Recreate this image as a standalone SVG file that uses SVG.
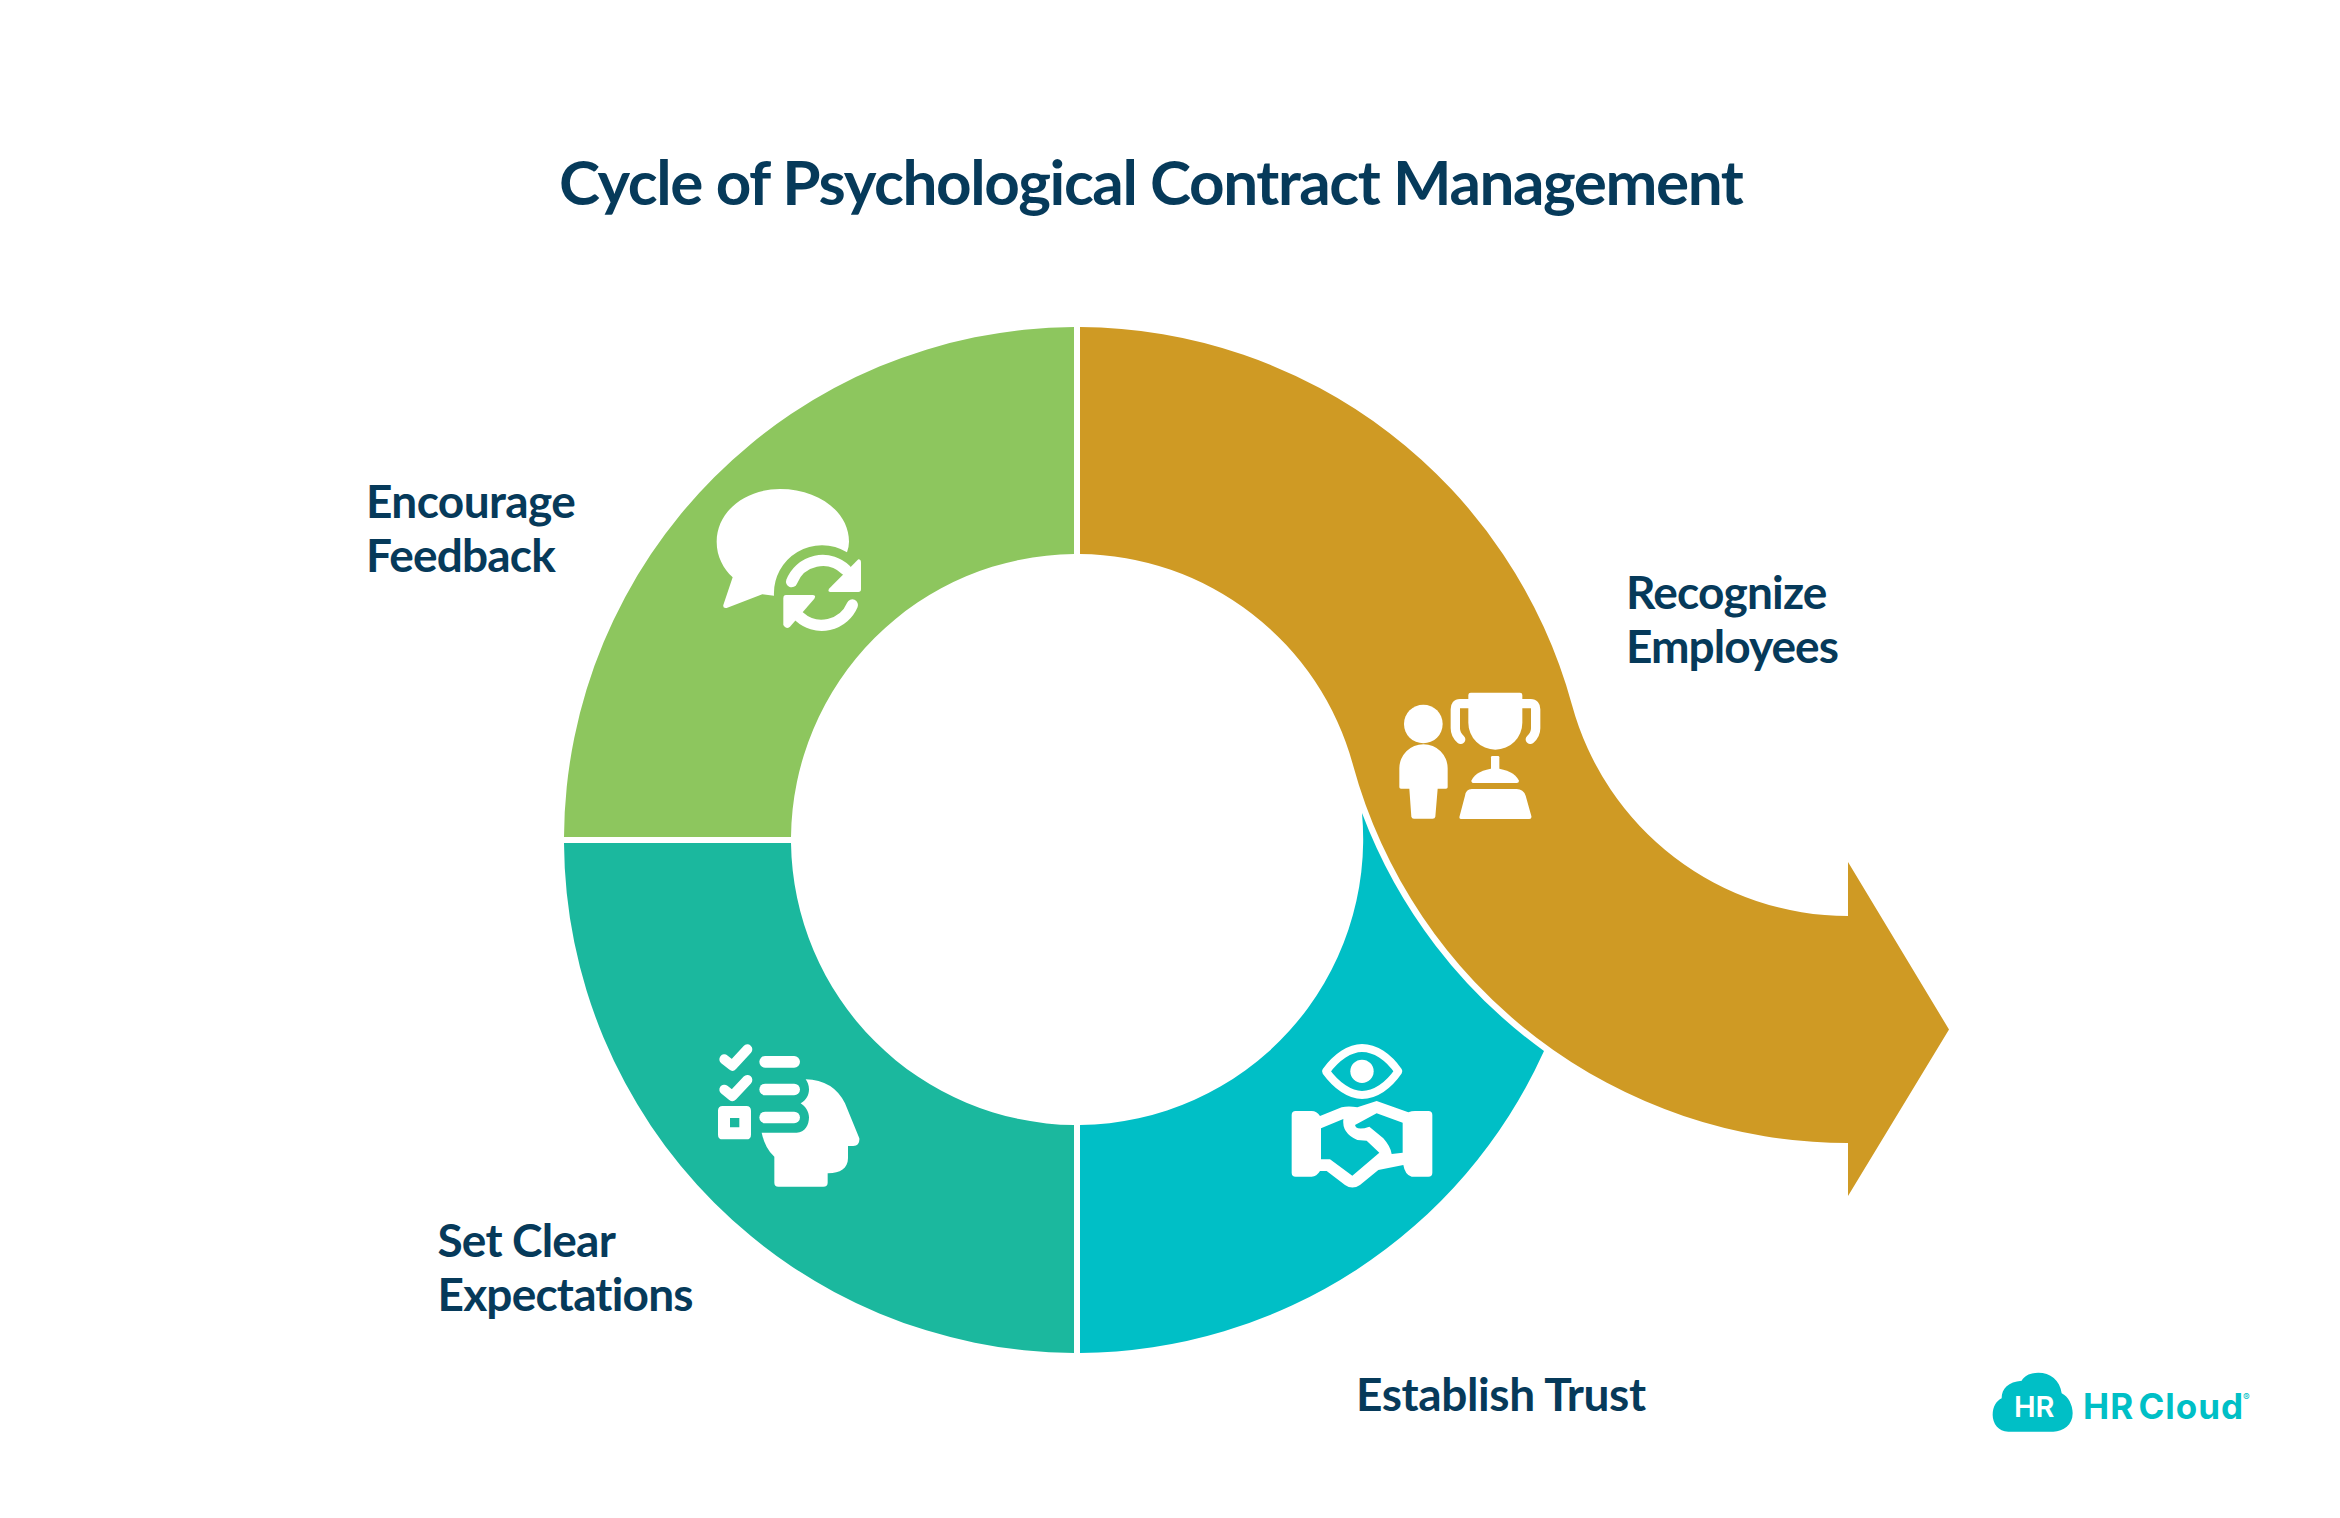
<svg xmlns="http://www.w3.org/2000/svg" width="2340" height="1518" viewBox="0 0 2340 1518">
<style>
text{font-family:Lato,"Liberation Sans",sans-serif;font-weight:700;fill:#063a5a}
.title{font-size:62px;letter-spacing:-1.42px}
.lab{font-size:46px;letter-spacing:-.8px}
.ic{fill:#fff}
.st{fill:none;stroke:#fff;stroke-linecap:round;stroke-linejoin:round}
.logo{font-family:Inter,"Liberation Sans",sans-serif;font-weight:700;fill:#00bfc6}
</style>
<rect width="2340" height="1518" fill="#fff"/>
<text class="title" x="559" y="205">Cycle of Psychological Contract Management</text>

<g id="node-encourage-feedback">
<path d="M1074 327A513 513 0 0 0 564 837H791A286 286 0 0 1 1074 554Z" fill="#8dc65e"/>
<g transform="translate(680 460) scale(.33333)">
<path class="ic" d="M158 352L130 435Q128 446 140 444L247 403L282 407A144 144 0 0 1 501 277Q507 260 507 245C507 155 415 87 300 87C195 87 110 155 110 245C110 290 130 325 158 352Z"/>
<path class="st" stroke-width="34" d="M335 365A100 100 0 0 1 498 330"/>
<path class="ic" d="M535 298Q543 298 543 308V388Q543 396 535 396H452Q442 396 447 386Z"/>
<path class="st" stroke-width="34" d="M517 435A100 100 0 0 1 358 470"/>
<path class="ic" d="M318 405H397Q410 405 403 416L330 500Q318 510 310 495V415Q310 405 318 405Z"/>
</g>
<text class="lab" x="366" y="518" style="letter-spacing:-.6px">Encourage</text><text class="lab" x="366" y="572">Feedback</text>
</g>

<g id="node-set-clear-expectations">
<path d="M564 843A513 513 0 0 0 1074 1353V1125A286 286 0 0 1 791 843Z" fill="#1bb89e"/>
<g transform="translate(690 1030) scale(.33333)">
<path class="st" stroke-width="30" d="M103 88L127 107L172 58M103 179L127 198L172 150"/>
<rect class="ic" x="208" y="78" width="122" height="35" rx="17.5"/>
<rect class="ic" x="208" y="161" width="122" height="35" rx="17.5"/>
<rect class="ic" x="208" y="245" width="122" height="35" rx="17.5"/>
<path class="ic" fill-rule="evenodd" d="M98 228H169Q183 228 183 242V314Q183 328 169 328H98Q84 328 84 314V242Q84 228 98 228ZM120 264V292H148V264Z"/>
<path class="ic" d="M347 148Q430 150 465 220L508 325Q510 347 490 348H474V385C474 415 450 430 415 430H413V458Q413 470 400 470H265Q253 470 253 458V380Q225 355 215 308H320C345 308 357 285 357 262C357 245 345 228 332 220C350 210 357 195 357 178C357 165 352 155 347 148Z"/>
</g>
<text class="lab" x="437.500" y="1257">Set Clear</text><text class="lab" x="437.500" y="1311">Expectations</text>
</g>

<g id="node-establish-trust">
<path d="M1080 1353A513 513 0 0 0 1544 1051A519 519 0 0 1 1362 813A286 286 0 0 1 1080 1125Z" fill="#00bfc6"/>
<g transform="translate(1270 1030) scale(.33333)">
<path class="st" stroke-width="24" d="M168 124C200 80 240 54 276 54C315 54 355 80 385 124C355 168 315 195 276 195C240 195 200 168 168 124Z"/>
<circle class="ic" cx="276" cy="124" r="35"/>
<path class="ic" fill-rule="evenodd" d="M77 243H125Q140 243 150 258L215 232Q235 227 262 232L320 213L415 247Q425 243 435 243H475Q487 243 487 255V428Q487 440 475 440H425Q405 435 400 405L325 420L270 465Q247 480 225 465L170 423H150Q140 440 125 440H77Q65 440 65 428V255Q65 243 77 243ZM153 295L220 267Q215 310 262 330L290 332L328 368L247 437L180 388H153ZM255 285L320 250L398 278V368L365 372Q362 350 340 325L298 290Q270 300 258 292Z"/>
</g>
<text class="lab" x="1356" y="1411" style="letter-spacing:-.38px">Establish Trust</text>
</g>

<g id="node-recognize-employees">
<path d="M1080 327A513 513 0 0 1 1572 705A286 286 0 0 0 1848 916V862L1949 1029.5L1848 1196V1143A513 513 0 0 1 1353 765A286 286 0 0 0 1080 554Z" fill="#cf9a24"/>
<g transform="translate(1300 650) scale(.33333)">
<circle class="ic" cx="370" cy="222" r="58"/>
<path class="ic" d="M298 412V355A72 72 0 0 1 443 355V412Q443 416 438 416H413L406 500Q405 506 398 506H342Q335 506 334 500L328 416H303Q298 416 298 412Z"/>
<path class="ic" d="M505 135Q505 128 512 128H660Q667 128 667 135V218A81 81 0 0 1 505 218Z"/>
<path class="st" stroke-width="28" d="M505 161H480Q466 161 466 178V235Q466 255 482 268M667 161H692Q707 161 707 178V235Q707 255 691 268"/>
<rect class="ic" x="573" y="318" width="25" height="45" rx="4"/>
<path class="ic" d="M514 392Q530 360 585 355Q640 360 657 392Q657 399 650 399H522Q514 399 514 392Z"/>
<path class="ic" d="M515 417H650Q670 417 677 437L694 498Q696 507 688 507H484Q476 507 479 498L495 437Q498 417 515 417Z"/>
</g>
<text class="lab" x="1626" y="609">Recognize</text><text class="lab" x="1626" y="663" style="letter-spacing:-.95px">Employees</text>
</g>

<g id="logo">
<path transform="translate(1980 1360) scale(.33333)" d="M85 215C55 215 38 190 38 165C38 140 50 122 65 115C65 85 85 65 125 62C135 45 155 38 175 38C210 38 240 60 245 100C265 110 278 135 278 160C278 195 250 215 220 215Z" fill="#00bfc6"/>
<text x="2014" y="1417" font-size="29" style="font-family:Inter,'Liberation Sans',sans-serif;font-weight:600;fill:#fff">HR</text>
<text class="logo" x="2083" y="1419" font-size="35" word-spacing="-5" letter-spacing="1">HR Cloud</text>
<text class="logo" x="2243" y="1401" font-size="10" style="font-weight:400">®</text>
</g>
</svg>
